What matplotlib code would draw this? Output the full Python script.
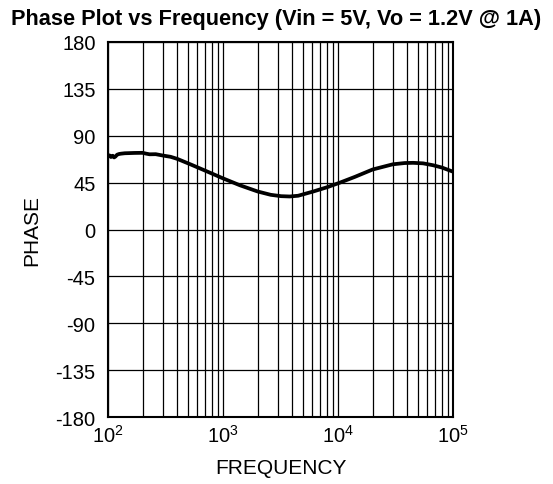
import matplotlib
matplotlib.use("Agg")
import matplotlib.pyplot as plt
import numpy as np
from matplotlib.ticker import LogLocator, FixedLocator, NullFormatter

plt.rcParams['font.family'] = ['Liberation Sans', 'DejaVu Sans']
plt.rcParams['axes.unicode_minus'] = False

freq = [100, 103, 106, 110, 113, 116, 120, 125, 130, 140, 150, 170, 200, 215, 230, 260, 300, 350,
        400, 520, 700, 1000, 1400, 2000, 2600, 3200, 3800, 4500, 6100, 8000, 10400,
        14000, 20000, 30000, 38000, 45000, 55000, 67000, 80000, 100000]
phase = [70.5, 71.2, 69.6, 70.8, 69.2, 70.0, 71.8, 72.5, 72.8, 73.2, 73.3, 73.5, 73.6, 72.8, 72.2, 72.3, 71.0, 69.8,
         67.8, 62.6, 56.5, 49.1, 42.5, 36.5, 33.3, 32.0, 31.7, 32.4, 36.5, 40.5, 45.0,
         50.5, 57.6, 62.6, 63.8, 64.0, 63.5, 61.7, 59.5, 55.5]

yticks = [-180, -135, -90, -45, 0, 45, 90, 135, 180]

fig = plt.figure(figsize=(5.53, 4.85), dpi=100)
ax = fig.add_axes([108/553, 1 - 418/485, 345/553, 375/485])

ax.plot(freq, phase, color='black', lw=2.7, solid_joinstyle='round', zorder=3)

ax.set_xscale('log')
ax.set_xlim(1e2, 1e5)
ax.set_ylim(-180, 180)
ax.yaxis.set_major_locator(FixedLocator(yticks))
ax.xaxis.set_major_locator(LogLocator(base=10, numticks=10))
ax.xaxis.set_minor_locator(LogLocator(base=10, subs=np.arange(2, 10), numticks=100))
ax.xaxis.set_minor_formatter(NullFormatter())

ax.grid(True, which='both', axis='x', color='black', lw=0.9)
ax.grid(True, which='major', axis='y', color='black', lw=0.9)
ax.tick_params(axis='both', which='both', length=0, labelsize=14.5)
ax.tick_params(axis='y', pad=9)
ax.tick_params(axis='x', pad=5)
for s in ax.spines.values():
    s.set_linewidth(1.5)
    s.set_color('black')

ax.set_xlabel('FREQUENCY', fontsize=15, labelpad=9)
ax.set_ylabel('PHASE', fontsize=15, labelpad=10)
fig.text(276/553, 1 - 25/485, 'Phase Plot vs Frequency (Vin = 5V, Vo = 1.2V @ 1A)',
         ha='center', va='baseline', fontsize=15.7, fontweight='bold')

fig.savefig('out.png', dpi=100)
